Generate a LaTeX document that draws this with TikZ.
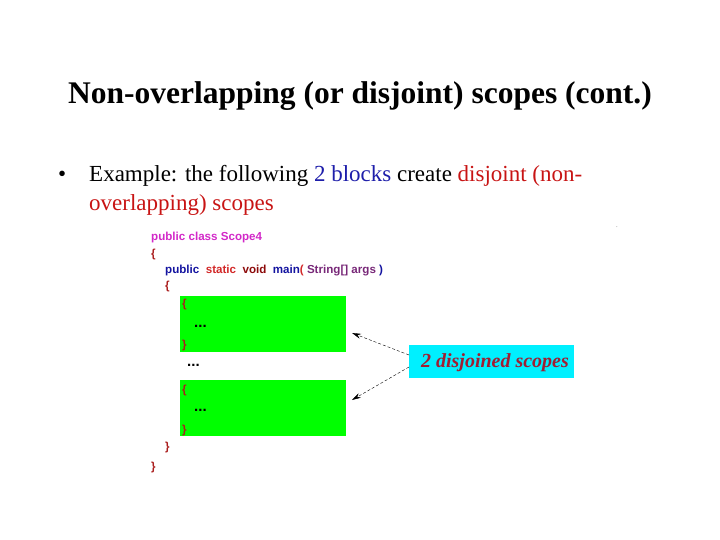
\documentclass[tikz,border=0pt]{standalone}
\usepackage{fontspec}
\setmainfont{Liberation Serif}
\newfontfamily\codefont{Liberation Sans}
\usetikzlibrary{arrows.meta}
\begin{document}
\begin{tikzpicture}[x=1pt,y=-1pt,
  code/.style={anchor=west,inner sep=0pt,font=\codefont\bfseries\fontsize{11.6}{13}\selectfont},
  body/.style={anchor=west,inner sep=0pt,font=\fontsize{23}{26}\selectfont},
  arr/.style={-{Stealth[length=9pt,width=5pt]},densely dashed,thin}]
\definecolor{mag}{RGB}{210,40,200}
\definecolor{nav}{RGB}{20,20,160}
\definecolor{rd}{RGB}{210,40,40}
\definecolor{drd}{RGB}{140,10,10}
\definecolor{pur}{RGB}{120,40,120}
\definecolor{brc}{RGB}{170,30,30}
\definecolor{bl}{RGB}{30,30,170}
\definecolor{tred}{RGB}{200,20,20}
\definecolor{scred}{RGB}{160,30,50}
\definecolor{cy}{RGB}{0,240,255}
\definecolor{gr}{RGB}{0,255,0}
\useasboundingbox (0,0) rectangle (720,540);
\node[font=\bfseries\fontsize{31.5}{34}\selectfont] (title) at (360,96) {Non-overlapping (or disjoint) scopes (cont.)};
\node[body] (b) at (58,176) {\textbullet};
\node[body] (l1) at (89,176) {Example: the following \textcolor{bl}{2 blocks} create \textcolor{tred}{disjoint (non-}};
\node[body] (l2) at (89,205) {\textcolor{tred}{overlapping) scopes}};
\node[inner sep=0pt,font=\tiny] (dot) at (617,227) {.};
\node[fill=gr,minimum width=166,minimum height=56,anchor=north west,inner sep=0] (g1) at (180,296) {};
\node[fill=gr,minimum width=166,minimum height=56,anchor=north west,inner sep=0] (g2) at (180,380) {};
\node[fill=cy,minimum width=165,minimum height=33,anchor=north west,inner sep=0] (c) at (409,345) {};
\node[inner sep=0,font=\itshape\bfseries\fontsize{20}{22}\selectfont,text=scred] (ct) at (495,363) {2 disjoined scopes};
\coordinate (a1) at (409,355); \coordinate (a2) at (409,367);
\coordinate (t1) at (352,333); \coordinate (t2) at (352,400);
\draw[arr] (a1) -- (t1);
\draw[arr] (a2) -- (t2);
\node[code,text=mag] (k1) at (151,238) {public class Scope4};
\node[code,text=brc] (k2) at (151,255) {\{};
\node[code] (k3) at (165,271) {\textcolor{nav}{public}\ \ \textcolor{rd}{static}\ \ \textcolor{drd}{void}\ \ \textcolor{nav}{main}\textcolor{rd}{(} \textcolor{pur}{String[] args} \textcolor{nav}{)}};
\node[code,text=brc] (k4) at (165,287) {\{};
\node[code,text=brc] (k5) at (182,305) {\{};
\node[code,font=\codefont\bfseries\fontsize{15}{16}\selectfont] (k6) at (194,326) {...};
\node[code,text=brc] (k7) at (182,345) {\}};
\node[code,font=\codefont\bfseries\fontsize{15}{16}\selectfont] (k8) at (187,365) {...};
\node[code,text=brc] (k9) at (182,390) {\{};
\node[code,font=\codefont\bfseries\fontsize{15}{16}\selectfont] (k10) at (194,410) {...};
\node[code,text=brc] (k11) at (182,430) {\}};
\node[code,text=brc] (k12) at (165,447) {\}};
\node[code,text=brc] (k13) at (151,467) {\}};
\end{tikzpicture}
\end{document}
